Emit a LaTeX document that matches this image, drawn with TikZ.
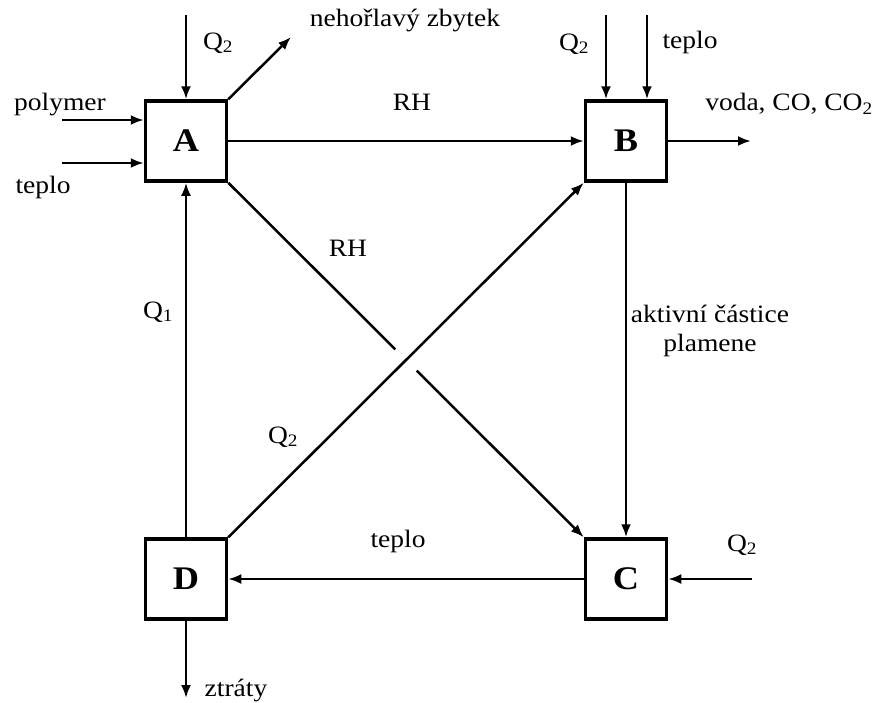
\documentclass[tikz,border=0pt]{standalone}
\usepackage{fontspec}
\setmainfont[FakeStretch=1.1]{Liberation Serif}
\usetikzlibrary{arrows.meta,calc}
\begin{document}
\begin{tikzpicture}[x=1pt,y=-1pt,
  box/.style={draw, line width=3.5pt, minimum width=81pt, minimum height=80pt, inner sep=0pt, font=\fontsize{33}{36}\selectfont\bfseries},
  lbl/.style={font=\fontsize{25}{29}\selectfont, inner sep=0pt, align=center},
  flow/.style={line width=2.5pt, -{Latex[length=13pt,width=10pt]}},
  plain/.style={line width=2.5pt}]
\useasboundingbox (0,0) rectangle (880,702);
\fill[white] (0,0) rectangle (880,702);
\node[box] (A) at (186,141) {A};
\node[box] (B) at (626,141) {B};
\node[box] (C) at (626,579) {C};
\node[box] (D) at (186,579) {D};
% free ends
\coordinate (qA) at (186,15);
\coordinate (nz) at (291,37);
\coordinate (pol) at (62,120);
\coordinate (tA) at (62,163);
\coordinate (qB) at (606,15);
\coordinate (tB) at (647,15);
\coordinate (vo) at (751,141);
\coordinate (qC) at (752,579);
\coordinate (zt) at (186,698);
% inputs/outputs
\draw[flow] (qA) -- (A.north);
\draw[flow] (A.north east) -- (nz);
\draw[flow] (pol) -- (pol -| A.west);
\draw[flow] (tA) -- (tA -| A.west);
\draw[flow] (qB) -- (qB |- B.north);
\draw[flow] (tB) -- (tB |- B.north);
\draw[flow] (B.east) -- (vo);
\draw[flow] (qC) -- (C.east);
\draw[flow] (D.south) -- (zt);
% main connectors
\draw[flow] (A.east) -- (B.west);
\draw[flow] (B.south) -- (C.north);
\draw[flow] (C.west) -- (D.east);
\draw[flow] (D.north) -- (A.south);
\draw[flow] (A.south east) -- (C.north west);
\draw[white, line width=30pt] ($(D.north east)!0.46!(B.south west)$) -- ($(D.north east)!0.54!(B.south west)$);
\draw[flow] (D.north east) -- (B.south west);
% labels
\node[lbl] (lqA) at (218,43) {Q\textsubscript{2}};
\node[lbl] (lnz) at (405,20) {nehořlavý zbytek};
\node[lbl] (lpol) at (60,105) {polymer};
\node[lbl] (ltA) at (43,187) {teplo};
\node[lbl] (lRH1) at (412,102) {RH};
\node[lbl] (lqB) at (574,44) {Q\textsubscript{2}};
\node[lbl] (ltB) at (690,42) {teplo};
\node[lbl] (lvo) at (789,104) {voda, CO, CO\textsubscript{2}};
\node[lbl] (lak) at (710,331) {aktivní částice\\plamene};
\node[lbl] (lRH2) at (348,248) {RH};
\node[lbl] (lq1) at (158,312) {Q\textsubscript{1}};
\node[lbl] (lq2d) at (283,437) {Q\textsubscript{2}};
\node[lbl] (ltD) at (398,541) {teplo};
\node[lbl] (lqC) at (742,545) {Q\textsubscript{2}};
\node[lbl] (lzt) at (236,690) {ztráty};
\end{tikzpicture}
\end{document}
